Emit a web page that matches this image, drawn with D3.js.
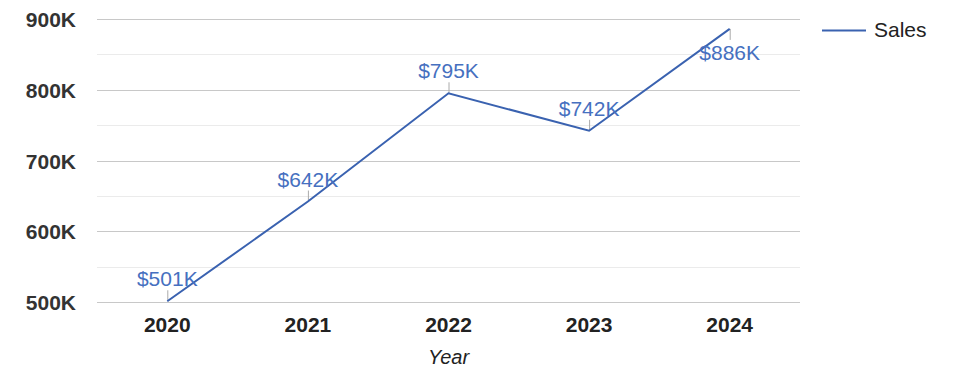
<!DOCTYPE html>
<html><head><meta charset="utf-8">
<script src="https://cdn.jsdelivr.net/npm/d3@7"></script>
<style>
body{margin:0;background:#fff;}
text{font-family:Arial,"Liberation Sans",sans-serif;}
</style></head>
<body><svg id="c" width="975" height="378"></svg>
<script>
const years = ["2020","2021","2022","2023","2024"];
const sales = [501000, 642000, 795000, 742000, 886000];
const labels = ["$501K","$642K","$795K","$742K","$886K"];
const yTicks = [500000,600000,700000,800000,900000];
const yMinor = [550000,650000,750000,850000];
const seriesName = "Sales";
const xTitle = "Year";

const svg = d3.select("#c");
const L=97, R=800, T=19, B=302;
const x = d3.scaleBand().domain(years).range([L,R]);
const y = d3.scaleLinear().domain([500000,900000]).range([B,T]);
const cx = d => x(d)+x.bandwidth()/2;

svg.append("g").selectAll("line").data(yMinor).join("line")
  .attr("x1",L).attr("x2",R).attr("y1",d=>Math.round(y(d))+0.5).attr("y2",d=>Math.round(y(d))+0.5)
  .attr("stroke","#ebebeb").attr("stroke-width",1);
svg.append("g").selectAll("line").data(yTicks).join("line")
  .attr("x1",L).attr("x2",R).attr("y1",d=>Math.round(y(d))+0.5).attr("y2",d=>Math.round(y(d))+0.5)
  .attr("stroke","#c8c8c8").attr("stroke-width",1);

svg.append("g").selectAll("text").data(yTicks).join("text")
  .attr("x",76).attr("y",d=>y(d)+8).attr("text-anchor","end")
  .attr("font-size",21).attr("font-weight","bold").attr("fill","#333")
  .text(d=>d3.format("d")(d/1000)+"K");

svg.append("g").selectAll("text").data(years).join("text")
  .attr("x",d=>cx(d)).attr("y",332).attr("text-anchor","middle")
  .attr("font-size",21).attr("font-weight","bold").attr("fill","#222")
  .text(d=>d);

svg.append("text").attr("x",(L+R)/2).attr("y",364).attr("text-anchor","middle")
  .attr("font-size",20).attr("font-style","italic").attr("fill","#222").text(xTitle);

const pts = years.map((yr,i)=>({yr,v:sales[i],lab:labels[i],below:y(sales[i])-T<30}));

// label leader ticks
svg.append("g").selectAll("line").data(pts).join("line")
  .attr("x1",d=>cx(d.yr)+0.5).attr("x2",d=>cx(d.yr)+0.5)
  .attr("y1",d=>y(d.v)).attr("y2",d=>d.below? y(d.v)+11 : y(d.v)-11)
  .attr("stroke","#aaa").attr("stroke-width",1);

svg.append("path").datum(pts)
  .attr("d",d3.line().x(d=>cx(d.yr)).y(d=>y(d.v)))
  .attr("fill","none").attr("stroke","#3a62b0").attr("stroke-width",2);

svg.append("g").selectAll("text").data(pts).join("text")
  .attr("x",d=>cx(d.yr)).attr("y",d=>d.below? y(d.v)+31 : y(d.v)-15).attr("text-anchor","middle")
  .attr("font-size",21).attr("fill","#4670c0")
  .text(d=>d.lab);

// legend
svg.append("line").attr("x1",822).attr("x2",866).attr("y1",30.5).attr("y2",30.5)
  .attr("stroke","#3a62b0").attr("stroke-width",2);
svg.append("text").attr("x",874).attr("y",37).attr("font-size",21).attr("fill","#222").text(seriesName);
</script></body></html>
